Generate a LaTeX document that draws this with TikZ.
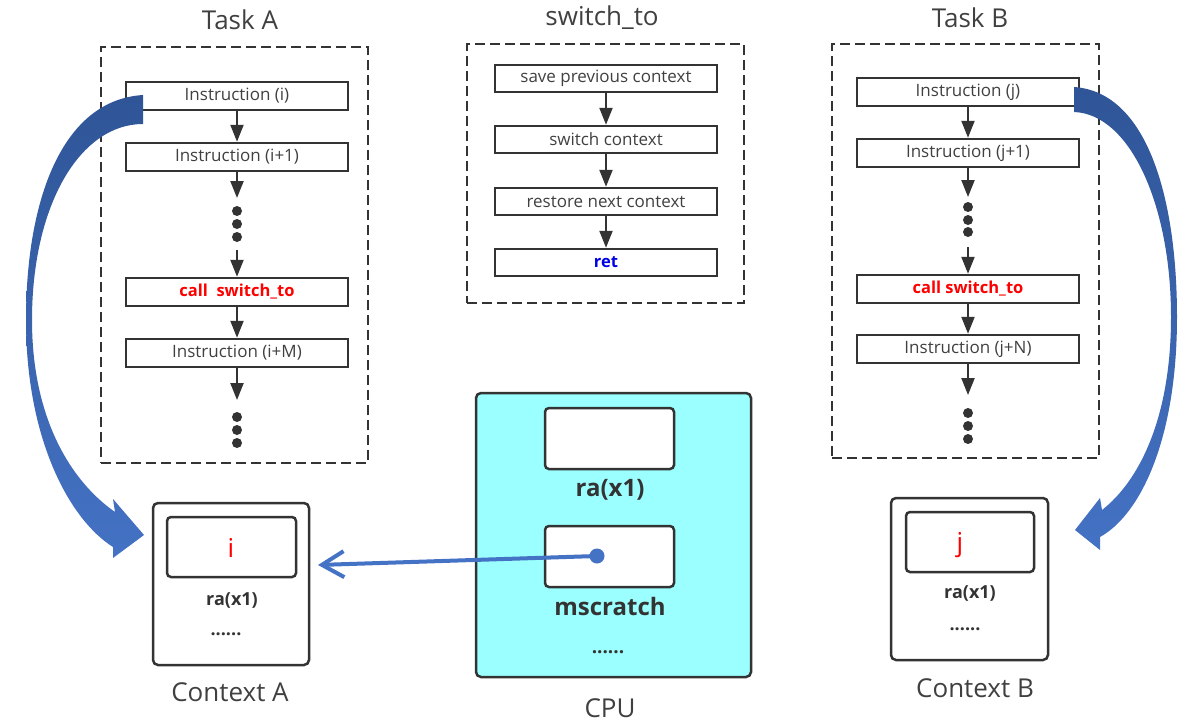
\documentclass[tikz,border=0pt]{standalone}
\usepackage{fontspec}
\setmainfont{Open Sans}
\usetikzlibrary{arrows.meta}
\definecolor{ink}{HTML}{333333}
\definecolor{txt}{HTML}{404040}
\definecolor{blueA}{HTML}{4472C4}
\definecolor{blueD}{HTML}{2F5597}
\definecolor{cpucyan}{HTML}{9CFFFF}
\definecolor{redtxt}{HTML}{FF0000}
\definecolor{bluetxt}{HTML}{0000E6}
\begin{document}
\begin{tikzpicture}[x=1pt,y=-1pt,
  instr/.style={draw=ink, line width=2.5pt, minimum width=222pt, minimum height=28pt, inner sep=0pt, font=\fontsize{17}{17}\selectfont, text=txt},
  dashbox/.style={draw=ink, line width=2.2pt, dash pattern=on 10pt off 5pt, inner sep=0pt},
  flow/.style={draw=ink, line width=2.2pt, -{Triangle[length=17pt,width=13pt]}},
  vdot/.style={circle, fill=ink, inner sep=0pt, minimum size=10pt},
  title/.style={font=\fontsize{26}{26}\selectfont, text=txt},
  ctxbox/.style={draw=ink, line width=2.5pt, rounded corners=5pt, inner sep=0pt},
  regbox/.style={draw=ink, line width=2.5pt, rounded corners=4pt, fill=white, inner sep=0pt},
  boldlbl/.style={font=\fontsize{18}{18}\selectfont\bfseries, text=ink},
  cpulbl/.style={font=\fontsize{24}{24}\selectfont\bfseries, text=ink},
  callred/.style={font=\fontsize{16.5}{16.5}\selectfont\bfseries, text=redtxt}
]
\useasboundingbox (0,0) rectangle (1187,726);

% ---------- Task A ----------
\node[title] (tA) at (240,20) {Task A};
\node[dashbox, minimum width=267pt, minimum height=416pt] (boxA) at (234.5,255) {};
\node[instr] (iA1) at (237,96) {Instruction (i)};
\node[instr] (iA2) at (237,157) {Instruction (i+1)};
\node[instr, callred] (cA) at (237,292) {call\ \ switch\_to};
\node[instr] (iAM) at (237,353) {Instruction (i+M)};
\node[vdot] (dA1) at (237,211) {};
\node[vdot] (dA2) at (237,224) {};
\node[vdot] (dA3) at (237,237) {};
\node[vdot] (dA4) at (237,417) {};
\node[vdot] (dA5) at (237,430) {};
\node[vdot] (dA6) at (237,443) {};
\coordinate (eA1) at (237,198);
\coordinate (sA2) at (237,250);
\coordinate (eA3) at (237,400);
\draw[flow] (iA1.south) -- (iA2.north);
\draw[flow] (iA2.south) -- (eA1);
\draw[flow] (sA2) -- (cA.north);
\draw[flow] (cA.south) -- (iAM.north);
\draw[flow] (iAM.south) -- (eA3);

% ---------- switch_to ----------
\node[title] (tS) at (602,18) {switch\_to};
\node[dashbox, minimum width=277pt, minimum height=259pt] (boxS) at (605.5,173.5) {};
\node[instr, minimum height=27pt] (s1) at (606,78.5) {save previous context};
\node[instr, minimum height=27pt] (s2) at (606,139.5) {switch context};
\node[instr, minimum height=27pt] (s3) at (606,201.5) {restore next context};
\node[instr, minimum height=27pt, font=\fontsize{16.5}{16.5}\selectfont\bfseries, text=bluetxt] (s4) at (606,262.5) {ret};
\draw[flow] (s1.south) -- (s2.north);
\draw[flow] (s2.south) -- (s3.north);
\draw[flow] (s3.south) -- (s4.north);

% ---------- Task B ----------
\node[title] (tB) at (970,18) {Task B};
\node[dashbox, minimum width=267pt, minimum height=414pt] (boxB) at (965.5,251) {};
\node[instr] (iB1) at (968,92) {Instruction (j)};
\node[instr] (iB2) at (968,153) {Instruction (j+1)};
\node[instr, callred] (cB) at (968,289) {call switch\_to};
\node[instr] (iBN) at (968,349) {Instruction (j+N)};
\node[vdot] (dB1) at (968,207) {};
\node[vdot] (dB2) at (968,220) {};
\node[vdot] (dB3) at (968,232) {};
\node[vdot] (dB4) at (968,413) {};
\node[vdot] (dB5) at (968,426) {};
\node[vdot] (dB6) at (968,439) {};
\coordinate (eB1) at (968,197);
\coordinate (sB2) at (968,247);
\coordinate (eB3) at (968,395);
\draw[flow] (iB1.south) -- (iB2.north);
\draw[flow] (iB2.south) -- (eB1);
\draw[flow] (sB2) -- (cB.north);
\draw[flow] (cB.south) -- (iBN.north);
\draw[flow] (iBN.south) -- (eB3);

% ---------- Context A ----------
\node[ctxbox, minimum width=156pt, minimum height=162pt] (ctxA) at (231,584) {};
\node[regbox, minimum width=129pt, minimum height=60pt] (rA) at (231.5,547) {};
\node[font=\fontsize{26}{26}\selectfont, text=redtxt] (vA) at (231,548) {i};
\node[boldlbl] (raA) at (232,600) {ra(x1)};
\node[boldlbl] (moreA) at (226,634) {......};
\node[title] (lA) at (230,692) {Context A};

% ---------- Context B ----------
\node[ctxbox, minimum width=157pt, minimum height=162pt] (ctxB) at (969.5,579) {};
\node[regbox, minimum width=128pt, minimum height=60pt] (rB) at (970,542) {};
\node[font=\fontsize{26}{26}\selectfont, text=redtxt] (vB) at (960,545) {j};
\node[boldlbl] (raB) at (970,593) {ra(x1)};
\node[boldlbl] (moreB) at (965,629) {......};
\node[title] (lB) at (975,688) {Context B};

% ---------- CPU ----------
\node[ctxbox, fill=cpucyan, minimum width=275pt, minimum height=284pt] (cpu) at (613.5,535) {};
\node[regbox, minimum width=129pt, minimum height=61pt] (ra) at (609.5,438.5) {};
\node[cpulbl] (raL) at (610,490) {ra(x1)};
\node[regbox, minimum width=129pt, minimum height=61pt] (ms) at (609.5,556.5) {};
\node[cpulbl] (msL) at (610,606) {mscratch};
\node[font=\fontsize{19}{19}\selectfont\bfseries, text=ink] (moreC) at (608,652) {......};
\node[title] (lC) at (610,708) {CPU};

% pointer from mscratch to Context A
\node[circle, fill=blueA, inner sep=0pt, minimum size=15pt] (ptr) at (597,556) {};
\coordinate (ptrEnd) at (318,565);
\draw[blueA, line width=4pt, -{Straight Barb[length=22pt,width=26pt,line width=4pt]}] (ptr.center) -- (ptrEnd);

% ---------- big curved arrows ----------
\shade[top color=blueD, bottom color=blueA]
  (143,95) .. controls (62,100) and (26,200) .. (26,320)
  .. controls (26,440) and (70,520) .. (113,547)
  -- (113,558) -- (144,535) -- (113,499) -- (115,512)
  .. controls (72,482) and (32,420) .. (32,320)
  .. controls (32,205) and (80,124) .. (143,124) -- cycle;
\shade[top color=blueD, bottom color=blueA]
  (1074,87) .. controls (1148,92) and (1177,200) .. (1177,317)
  .. controls (1177,440) and (1140,515) .. (1100,537)
  -- (1100,550) -- (1075,530) -- (1100,498) -- (1102,510)
  .. controls (1138,482) and (1171,420) .. (1171,317)
  .. controls (1171,205) and (1130,114) .. (1074,112) -- cycle;
\end{tikzpicture}
\end{document}
